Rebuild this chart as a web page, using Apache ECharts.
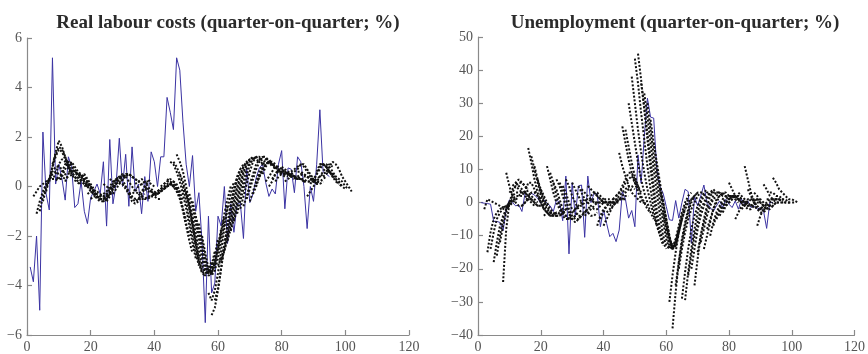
<!DOCTYPE html>
<html>
<head>
<meta charset="utf-8">
<script src="https://cdn.jsdelivr.net/npm/echarts@6/dist/echarts.min.js"></script>
<style>
  html, body { margin: 0; padding: 0; background: #fff; }
  #chart { width: 868px; height: 354px; }
</style>
</head>
<body>
<div id="chart"></div>
<script>
// Titles and axis ticks
const titles = ['Real labour costs (quarter-on-quarter; %)', 'Unemployment (quarter-on-quarter; %)'];
const xTicks = [0, 20, 40, 60, 80, 100, 120];
const laborTicks = [-6, -4, -2, 0, 2, 4, 6];
const unempTicks = [-40, -30, -20, -10, 0, 10, 20, 30, 40, 50];

// Observed real labour costs, quarters 1..95
const laborActual = [
  -3.25, -3.85, -2.0, -5.0, 2.2, -0.3, -0.95, 5.2, 0.1, 0.9,
  0.3, -0.55, 1.2, 0.8, -0.85, -0.7, 0.2, -1.0, -1.5, -0.45,
  -0.2, 0.1, -0.3, 1.0, -1.6, 1.9, -0.7, 0.1, 1.95, 0.0,
  1.3, -0.8, 1.6, -0.2, 0.1, -1.1, 0.4, -0.6, 1.4, 1.0,
  0.0, 1.2, 1.2, 3.6, 3.0, 2.3, 5.2, 4.7, 2.6, 0.9,
  0.0, 1.25, -1.0, -0.25, -2.3, -5.5, -1.2, -4.3, -3.9, -1.2,
  -1.6, 0.0, -2.3, -0.7, -1.85, -0.7, -0.65, -2.1, 0.75, -0.65,
  -0.3, 0.35, 0.75, 0.9, 0.15, -0.4, -0.1, -0.3, 0.9, 1.45,
  -0.9, 0.75, 0.7, -0.25, 1.2, 1.0, 0.0, -1.7, 0.0, -0.6,
  0.9, 3.1, 0.6, 0.5, 0.4
];

// Real labour cost forecast paths: first quarter of each path, then its values
const laborFcStart = [
  2, 3, 4, 5, 6, 7, 8, 9, 10, 11, 12, 13, 14, 15, 16, 17, 18, 19, 20, 21,
  22, 23, 24, 25, 26, 27, 28, 29, 30, 31, 32, 33, 34, 35, 36, 37, 38, 39, 40, 41,
  42, 43, 44, 45, 46, 47, 48, 49, 50, 51, 52, 53, 54, 55, 56, 57, 58, 59, 60, 61,
  62, 63, 64, 65, 66, 67, 68, 69, 70, 71, 72, 73, 74, 75, 76, 77, 78, 79, 80, 81,
  82, 83, 84, 85, 86, 87, 88, 89, 90, 91, 92, 93, 94
];
const laborFc = [
  [-0.4, -0.2, 0, 0.1, 0.2, 0.3, 0.3, 0.3, 0.2],
  [-1.1, -0.6, -0.2, 0.1, 0.3, 0.4, 0.4, 0.3, 0.3],
  [-1.0, -0.4, 0, 0.3, 0.5, 0.6, 0.5, 0.4, 0.3],
  [-0.6, -0.1, 0.3, 0.6, 0.8, 0.8, 0.7, 0.5, 0.3],
  [-0.2, 0.3, 0.8, 1.2, 1.5, 1.4, 1.1, 0.7, 0.4],
  [0.2, 0.8, 1.4, 1.85, 1.6, 1.2, 0.8, 0.5, 0.3],
  [0.9, 1.3, 1.6, 1.5, 1.2, 0.9, 0.6, 0.4, 0.2],
  [0.5, 0.9, 1.1, 1.0, 0.8, 0.6, 0.4, 0.2, 0.1],
  [0.3, 0.6, 0.9, 1.0, 0.8, 0.6, 0.4, 0.2, 0.1],
  [0.4, 0.7, 1.0, 0.9, 0.7, 0.5, 0.3, 0.1, 0],
  [0.2, 0.5, 0.7, 0.6, 0.5, 0.4, 0.2, 0, -0.1],
  [0.8, 1.0, 0.8, 0.6, 0.5, 0.3, 0.1, -0.1, -0.2],
  [0.6, 0.6, 0.5, 0.4, 0.2, 0, -0.2, -0.3, -0.3],
  [0.2, 0.4, 0.5, 0.4, 0.2, 0, -0.2, -0.4, -0.5],
  [0.1, 0.3, 0.3, 0.2, 0, -0.2, -0.4, -0.5, -0.5],
  [0.4, 0.5, 0.3, 0.1, -0.1, -0.3, -0.4, -0.4, -0.3],
  [0, 0.1, 0, -0.2, -0.4, -0.5, -0.5, -0.4, -0.3],
  [-0.3, -0.2, -0.3, -0.5, -0.6, -0.6, -0.5, -0.3, -0.2],
  [-0.5, -0.4, -0.4, -0.5, -0.5, -0.4, -0.2, 0, 0.1],
  [-0.3, -0.4, -0.5, -0.6, -0.5, -0.3, -0.1, 0.1, 0.2],
  [-0.2, -0.3, -0.4, -0.3, -0.1, 0.1, 0.3, 0.4, 0.4],
  [-0.4, -0.3, -0.2, 0, 0.2, 0.3, 0.4, 0.5, 0.4],
  [0.1, 0, -0.1, 0, 0.2, 0.3, 0.4, 0.5, 0.5],
  [-0.6, -0.4, -0.1, 0.1, 0.3, 0.4, 0.5, 0.5, 0.4],
  [0.3, 0.2, 0.2, 0.3, 0.4, 0.5, 0.5, 0.4, 0.3],
  [-0.3, -0.1, 0.1, 0.3, 0.4, 0.5, 0.4, 0.3, 0.2],
  [0.3, 0.2, 0.1, 0, -0.2, -0.4, -0.5, -0.5, -0.4],
  [0.4, 0.3, 0, -0.3, -0.6, -0.7, -0.6, -0.4, -0.3],
  [0.1, -0.1, -0.3, -0.5, -0.6, -0.5, -0.3, -0.1, 0],
  [0.4, 0.2, 0, -0.2, -0.3, -0.2, 0, 0.2, 0.3],
  [-0.3, -0.3, -0.2, 0, 0.1, 0.2, 0.2, 0.1, 0],
  [0.4, 0.3, 0.2, 0.1, 0, -0.1, -0.2, -0.3, -0.3],
  [0.1, 0.2, 0.3, 0.2, 0, -0.2, -0.4, -0.5, -0.5],
  [-0.3, -0.4, -0.5, -0.5, -0.4, -0.4, -0.3, -0.2, -0.1],
  [-0.5, -0.5, -0.4, -0.4, -0.3, -0.2, -0.1, 0, 0],
  [-0.1, -0.2, -0.2, -0.3, -0.3, -0.2, -0.1, 0, 0.1],
  [-0.4, -0.4, -0.3, -0.2, -0.1, 0, 0.1, 0.1, 0],
  [-0.1, -0.2, -0.3, -0.2, -0.1, 0, 0.1, 0, -0.1],
  [-0.3, -0.3, -0.2, -0.1, 0, 0.1, 0, -0.1, -0.2],
  [-0.2, -0.1, -0.1, 0, 0.1, 0.2, 0.1, -0.2, -0.6],
  [0, 0.1, 0.2, 0.3, 0.2, 0, -0.4, -0.9, -1.4],
  [0.1, 0.2, 0.2, 0.1, -0.1, -0.4, -0.9, -1.5, -2.0],
  [0.3, 0.2, 0, -0.2, -0.5, -1.0, -1.6, -2.2, -2.7],
  [1.0, 0.9, 0.6, 0.2, -0.3, -0.9, -1.6, -2.3, -2.9],
  [1.0, 0.8, 0.5, 0, -0.6, -1.3, -2.0, -2.7, -3.2],
  [1.3, 1.0, 0.6, 0, -0.7, -1.5, -2.3, -3.0, -3.5],
  [0.5, 0.2, -0.3, -0.9, -1.6, -2.4, -3.1, -3.5, -3.6],
  [0, -0.3, -0.8, -1.5, -2.2, -2.9, -3.4, -3.6, -3.4],
  [-0.2, -0.6, -1.2, -1.9, -2.6, -3.2, -3.5, -3.4, -3.0],
  [-0.3, -0.8, -1.5, -2.2, -2.9, -3.4, -3.5, -3.2, -2.6],
  [-0.6, -1.2, -1.9, -2.6, -3.2, -3.5, -3.3, -2.8, -2.1],
  [-1.2, -1.8, -2.5, -3.1, -3.5, -3.4, -3.0, -2.4, -1.7],
  [-1.5, -2.2, -2.9, -3.4, -3.5, -3.2, -2.6, -1.9, -1.2],
  [-2.0, -2.7, -3.3, -3.6, -3.4, -2.9, -2.2, -1.5, -0.8],
  [-3.3, -3.6, -3.5, -3.1, -2.5, -1.8, -1.1, -0.5, 0],
  [-4.3, -4.6, -4.2, -3.5, -2.6, -1.7, -0.9, -0.3, 0.2],
  [-5.2, -4.9, -4.2, -3.3, -2.4, -1.5, -0.7, -0.1, 0.3],
  [-4.6, -4.1, -3.3, -2.4, -1.6, -0.8, -0.1, 0.4, 0.7],
  [-3.2, -2.9, -2.4, -1.7, -1.0, -0.3, 0.3, 0.7, 0.9],
  [-3.0, -2.6, -2.0, -1.3, -0.6, 0, 0.5, 0.8, 1.0],
  [-2.6, -2.1, -1.5, -0.8, -0.2, 0.4, 0.8, 1.0, 1.1],
  [-2.2, -1.7, -1.1, -0.5, 0.1, 0.6, 0.9, 1.1, 1.1],
  [-1.8, -1.3, -0.7, -0.1, 0.5, 0.9, 1.1, 1.2, 1.1],
  [-1.4, -0.9, -0.4, 0.2, 0.7, 1.0, 1.2, 1.1, 1.0],
  [-1.1, -0.6, -0.1, 0.4, 0.9, 1.1, 1.2, 1.1, 0.9],
  [-0.9, -0.4, 0.1, 0.6, 1.0, 1.2, 1.2, 1.0, 0.8],
  [-0.8, -0.4, 0.1, 0.5, 0.9, 1.1, 1.2, 1.1, 0.9],
  [-0.5, -0.1, 0.3, 0.7, 1.0, 1.2, 1.2, 1.0, 0.8],
  [-0.6, -0.2, 0.2, 0.6, 0.9, 1.1, 1.1, 0.9, 0.7],
  [-0.3, 0, 0.4, 0.7, 0.9, 1.0, 0.9, 0.8, 0.6],
  [0.1, 0.4, 0.7, 0.9, 1.0, 0.9, 0.8, 0.6, 0.5],
  [0.4, 0.7, 0.9, 1.0, 0.9, 0.8, 0.7, 0.5, 0.4],
  [0.5, 0.8, 1.0, 1.0, 0.9, 0.7, 0.6, 0.5, 0.4],
  [0.2, 0.4, 0.6, 0.8, 0.8, 0.7, 0.6, 0.5, 0.4],
  [0, 0.2, 0.5, 0.7, 0.7, 0.6, 0.5, 0.4, 0.3],
  [0.3, 0.5, 0.6, 0.6, 0.5, 0.5, 0.4, 0.4, 0.3],
  [0.2, 0.4, 0.5, 0.5, 0.5, 0.4, 0.4, 0.3, 0.3],
  [0.6, 0.6, 0.6, 0.5, 0.5, 0.4, 0.3, 0.3, 0.2],
  [0.8, 0.7, 0.6, 0.5, 0.4, 0.3, 0.3, 0.2, 0.2],
  [0.2, 0.3, 0.4, 0.4, 0.4, 0.3, 0.3, 0.2, 0.2],
  [0.5, 0.6, 0.7, 0.8, 0.9, 0.8, 0.6, 0.4, 0.3],
  [0.5, 0.6, 0.7, 0.9, 0.9, 0.7, 0.5, 0.3, 0.1],
  [0.3, 0.4, 0.5, 0.5, 0.4, 0.3, 0.2, 0.1, 0.1],
  [0.6, 0.6, 0.5, 0.4, 0.3, 0.2, 0.2, 0.1, 0.2],
  [0.5, 0.4, 0.4, 0.3, 0.3, 0.2, 0.2, 0.3, 0.4],
  [0.2, 0.2, 0.2, 0.2, 0.3, 0.4, 0.5, 0.6, 0.6],
  [-0.4, -0.2, 0, 0.2, 0.4, 0.6, 0.8, 0.9, 0.8],
  [0.1, 0.3, 0.5, 0.7, 0.9, 0.9, 0.8, 0.6, 0.4],
  [0.2, 0.5, 0.8, 0.9, 0.8, 0.6, 0.4, 0.2, 0.1],
  [0.6, 0.9, 0.9, 0.8, 0.6, 0.4, 0.3, 0.1, 0],
  [0.9, 0.9, 0.8, 0.6, 0.5, 0.3, 0.2, 0, -0.1],
  [0.4, 0.5, 0.6, 0.5, 0.4, 0.3, 0.2, 0, -0.1],
  [0.6, 0.8, 1.0, 0.9, 0.7, 0.4, 0.2, 0, -0.2]
];

// Observed unemployment, quarters 1..94
const unempActual = [
  0, -0.2, -0.3, -0.5, -5.7, -5.7, -6.0, -8.5, -2.0, 0.8,
  0, -1.0, -0.7, -2.7, 2.8, 1.8, 2.8, 2.3, 1.3, -0.2,
  0.8, -0.2, -1.0, -2.7, 0.8, 0, -5.5, 8.0, -15.5, 6.0,
  -4.2, 5.0, 5.3, -10.5, 8.0, 0, 2.8, 2.6, -7.3, -2.2,
  -6.3, -10.3, -9.3, -11.8, -8.3, 3.3, 1.0, -4.7, -2.4, -7.3,
  14.4, 5.8, 20.0, 31.5, 25.8, 25.5, 10.0, 4.8, 2.8, -1.2,
  -5.2, -5.4, 0.6, -4.7, 0, 4.0, 3.3, -12.3, 1.8, -1.0,
  2.0, 5.3, -0.2, -1.5, -2.7, -1.0, 0.5, -1.5, 1.0, -0.5,
  -1.5, 0.5, -2.0, 1.0, -0.5, 0.5, -1.5, -1.0, -2.0, -1.5,
  -2.5, -7.8, 0, 0
];

// Unemployment forecast paths
const unempFcStart = laborFcStart;
const unempFc = [
  [-2, 1, 0.5, 0, -0.5, -1, -1.5, -1.5, -1],
  [-15, -9, -5, -3, -2, -1.5, -1, -0.5, 0],
  [-14, -9, -5, -3, -2, -1, 0, 0.5, 1],
  [-18, -12, -7, -4, -2, -1, 0, 1, 1.5],
  [-16, -10, -5, -2, 0, 1, 2, 2, 2],
  [-12, -7, -3, 0, 2, 3, 3, 3, 3],
  [-24, -8, 0, 3, 5, 6, 6, 5, 4],
  [9, 5, 2, 0, -1, -1, 0, 1, 1],
  [3, 4, 5, 4, 3, 2, 1, 0, -1],
  [5, 6, 7, 6, 5, 3, 2, 1, 0],
  [6, 5, 4, 3, 2, 1, 0, -1, -1],
  [2, 3, 3, 2, 1, 0, -1, -1, -1],
  [-1, 0, 2, 3, 3, 2, 1, 0, -1],
  [3, 6, 6, 4, 2, 0, -2, -3, -4],
  [16.5, 12, 7, 3, 0, -2, -3, -4, -4],
  [14, 10, 6, 2, -1, -3, -4, -4, -3],
  [11, 7, 3, 0, -2, -3, -4, -3, -3],
  [7, 4, 1, -1, -3, -4, -4, -3, -2],
  [4, 2, 0, -2, -3, -4, -4, -3, -2],
  [-4, -3, -3, -3, -4, -4, -3, -2, -2],
  [11, 7, 3, 0, -2, -4, -5, -5, -4],
  [9, 6, 2, -1, -3, -4, -5, -5, -4],
  [6, 4, 1, -2, -4, -5, -5, -4, -3],
  [7, 5, 2, -1, -3, -5, -6, -5, -4],
  [6, 4, 1, -2, -4, -5, -5, -4, -3],
  [5, 3, 0, -2, -3, -4, -4, -3, -2],
  [7, 5, 2, 0, -2, -3, -3, -2, -1],
  [-4, -3, -2, -1, -1, 0, 0, 1, 1],
  [6, 4, 2, 0, -2, -3, -4, -4, -3],
  [-2, -1, 0, 1, 1, 1, 0, 0, 0],
  [5, 3, 1, 0, -1, -2, -2, -1, 0],
  [4, 3, 2, 1, 0, 0, 0, 0, 0],
  [-4, -3, -2, -1, 0, 0, 1, 1, 1],
  [5, 4, 3, 2, 1, 0, 0, 0, 0],
  [2, 3, 3, 2, 1, 0, 0, 0, 0],
  [3, 2, 1, 0, 0, 0, 0, 0, 0],
  [-7, -4, -2, -1, 0, 0, 0, 1, 1],
  [-5, -3, -1, 0, 1, 1, 1, 1, 1],
  [-7, -5, -3, -1, 0, 1, 1, 2, 2],
  [-3, -2, -1, 0, 1, 2, 3, 4, 4],
  [-1, 0, 1, 2, 3, 4, 5, 5, 4],
  [1, 2, 3, 4, 6, 7, 8, 6, 4],
  [2, 3, 5, 7, 9, 9, 7, 5, 3],
  [15, 11, 8, 5, 3, 2, 1, 0, 0],
  [23, 18, 13, 9, 6, 3, 1, 0, -1],
  [22, 17, 12, 8, 5, 2, 0, -2, -3],
  [30, 24, 18, 12, 7, 3, 0, -3, -5],
  [38, 30, 22, 15, 9, 4, 0, -4, -7],
  [43.5, 36, 27, 19, 11, 4, -2, -7, -10],
  [45, 37, 28, 19, 10, 2, -5, -10, -13],
  [36, 29, 21, 13, 5, -2, -8, -12, -14],
  [33, 26, 18, 10, 3, -4, -10, -13, -14],
  [30, 22, 14, 7, 0, -6, -11, -14, -12],
  [25, 18, 11, 4, -3, -9, -13, -14, -11],
  [18, 12, 6, 0, -6, -11, -14, -12, -8],
  [10, 5, 0, -5, -10, -14, -13, -9, -5],
  [4, 0, -5, -10, -14, -13, -9, -5, -2],
  [-3, -7, -11, -14, -12, -8, -4, -1, 1],
  [-8, -12, -14, -11, -7, -3, 0, 2, 3],
  [-30, -22, -15, -9, -5, -2, 0, 1, 2],
  [-38, -27, -18, -11, -6, -2, 1, 2, 3],
  [-25, -18, -12, -7, -3, 0, 2, 3, 3],
  [-20, -14, -9, -5, -2, 0, 2, 3, 3],
  [-29, -21, -14, -8, -4, -1, 1, 3, 4],
  [-29.5, -21, -14, -8, -3, 0, 2, 3, 3],
  [-22, -16, -10, -6, -2, 0, 2, 3, 3],
  [-20, -14, -8, -4, -1, 1, 3, 4, 3],
  [-25, -17, -10, -5, -1, 2, 3, 3, 3],
  [-15, -10, -6, -2, 0, 2, 3, 3, 2],
  [-12, -8, -4, -1, 1, 2, 3, 2, 2],
  [-14, -10, -6, -2, 1, 2, 3, 2, 1],
  [-8, -5, -2, 0, 2, 3, 3, 2, 1],
  [-10, -6, -3, -1, 1, 2, 2, 2, 1],
  [-7, -4, -2, 0, 1, 2, 2, 1, 0],
  [-5, -3, -1, 0, 1, 2, 2, 1, 0],
  [-4, -2, 0, 1, 2, 2, 1, 0, 0],
  [-3, -1, 0, 1, 2, 2, 1, 0, -1],
  [-1, 0, 1, 2, 2, 1, 0, -1, -1],
  [6, 4, 2, 1, 0, -1, -1, -1, 0],
  [2, 2, 1, 0, -1, -2, -2, -1, 0],
  [-5, -3, -1, 0, 1, 1, 1, 0, 0],
  [3, 2, 1, 0, -1, -1, -2, -2, -1],
  [-2, -1, 0, 1, 1, 1, 0, -1, -1],
  [11, 7, 3, 0, -2, -3, -3, -2, -1],
  [4, 2, 0, -1, -2, -2, -2, -1, 0],
  [-1, 0, 1, 1, 0, -1, -1, -1, 0],
  [3, 2, 0, -1, -2, -2, -1, 0, 0],
  [-7, -4, -2, -1, 0, 1, 1, 1, 0],
  [-2, -1, 0, 1, 1, 1, 1, 0, 0],
  [5.5, 4, 2, 1, 0, 0, 0, 0, 0],
  [1, 1, 1, 1, 1, 1, 0, 0, 0],
  [3, 3, 2, 2, 1, 1, 0, 0, 0],
  [7.5, 6, 4, 3, 2, 1, 1, 0.5, 0]
];

const SERIF = 'Liberation Serif, Times New Roman, serif';
const AXIS_GREY = '#8a8a8a';
const LABEL_GREY = '#555555';
const minus = v => String(v).replace('-', '\u2212');

function xAxisFor(gridIndex) {
  return {
    type: 'value', gridIndex,
    min: xTicks[0], max: xTicks[xTicks.length - 1], interval: xTicks[1] - xTicks[0],
    axisLine: { onZero: false, lineStyle: { color: AXIS_GREY, width: 1.2 } },
    axisTick: { inside: true, length: 5, lineStyle: { color: AXIS_GREY, width: 1.2 } },
    axisLabel: { color: LABEL_GREY, fontFamily: SERIF, fontSize: 14, margin: 5, formatter: minus },
    splitLine: { show: false }
  };
}
function yAxisFor(gridIndex, ticks) {
  return {
    type: 'value', gridIndex,
    min: ticks[0], max: ticks[ticks.length - 1], interval: ticks[1] - ticks[0],
    axisLine: { show: true, onZero: false, lineStyle: { color: AXIS_GREY, width: 1.2 } },
    axisTick: { show: true, inside: true, length: 5, lineStyle: { color: AXIS_GREY, width: 1.2 } },
    axisLabel: { color: LABEL_GREY, fontFamily: SERIF, fontSize: 14, margin: 5, formatter: minus },
    splitLine: { show: false }
  };
}

function actualSeries(values, idx) {
  return {
    type: 'line', xAxisIndex: idx, yAxisIndex: idx,
    data: values.map((v, i) => [i + 1, v]),
    symbol: 'none', silent: true, z: 2,
    lineStyle: { color: '#3b33a3', width: 1 }
  };
}
function forecastSeries(starts, paths, idx) {
  return paths.map((path, k) => ({
    type: 'line', xAxisIndex: idx, yAxisIndex: idx,
    data: path.map((v, i) => [starts[k] + i, v]),
    symbol: 'none', silent: true, z: 3,
    lineStyle: { color: '#111111', width: 2, type: [2, 1.8] }
  }));
}

const chart = echarts.init(document.getElementById('chart'), null, { renderer: 'canvas' });
chart.setOption({
  animation: false,
  backgroundColor: '#ffffff',
  title: [
    { text: titles[0], left: 223, top: 9, textAlign: 'center',
      textStyle: { fontFamily: SERIF, fontWeight: 'bold', fontSize: 19, color: '#2b2b2b' } },
    { text: titles[1], left: 670, top: 9, textAlign: 'center',
      textStyle: { fontFamily: SERIF, fontWeight: 'bold', fontSize: 19, color: '#2b2b2b' } }
  ],
  grid: [
    { left: 27, right: 459, top: 38, bottom: 19 },
    { left: 478, right: 12, top: 37, bottom: 19 }
  ],
  xAxis: [xAxisFor(0), xAxisFor(1)],
  yAxis: [yAxisFor(0, laborTicks), yAxisFor(1, unempTicks)],
  series: [
    actualSeries(laborActual, 0),
    ...forecastSeries(laborFcStart, laborFc, 0),
    actualSeries(unempActual, 1),
    ...forecastSeries(unempFcStart, unempFc, 1)
  ]
});
</script>
</body>
</html>
